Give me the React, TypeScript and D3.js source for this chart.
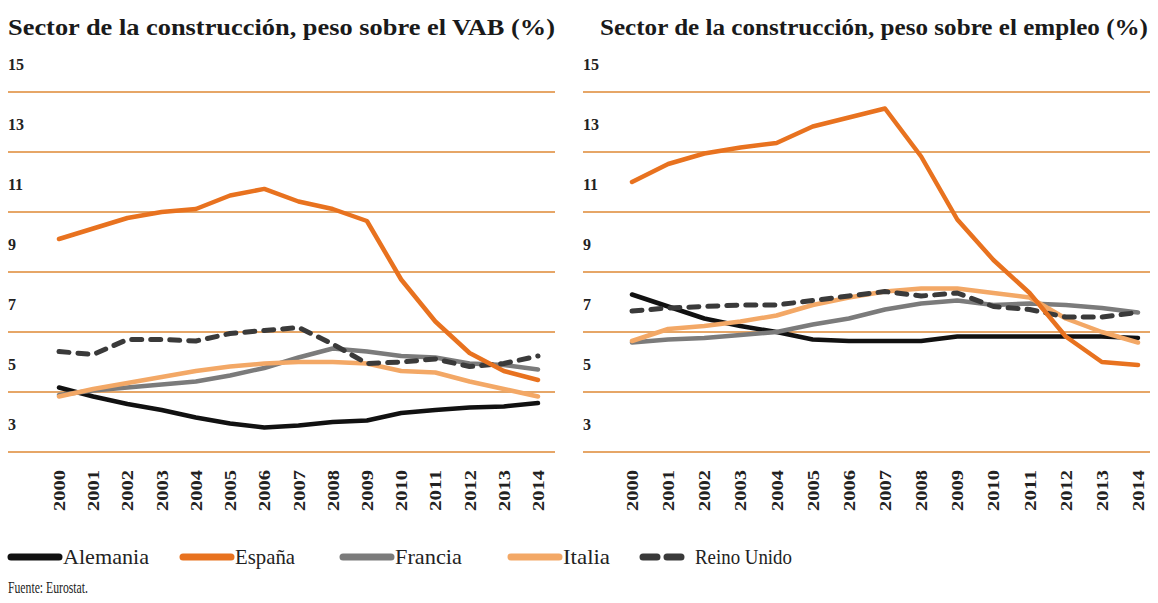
import React from "react";
import * as d3 from "d3";

const years = ["2000","2001","2002","2003","2004","2005","2006","2007","2008","2009","2010","2011","2012","2013","2014"];

// Left chart: weight on VAB (%)
const vabAlemania = [4.15, 3.85, 3.6, 3.4, 3.15, 2.95, 2.82, 2.88, 3.0, 3.05, 3.3, 3.4, 3.48, 3.52, 3.63];
const vabEspana = [9.1, 9.45, 9.8, 10.0, 10.1, 10.55, 10.77, 10.35, 10.1, 9.7, 7.75, 6.35, 5.3, 4.7, 4.4];
const vabFrancia = [3.9, 4.05, 4.15, 4.25, 4.35, 4.55, 4.8, 5.15, 5.45, 5.35, 5.2, 5.15, 4.95, 4.9, 4.75];
const vabItalia = [3.85, 4.1, 4.3, 4.5, 4.7, 4.85, 4.95, 5.0, 5.0, 4.95, 4.7, 4.65, 4.35, 4.1, 3.85];
const vabReinoUnido = [5.35, 5.25, 5.75, 5.75, 5.7, 5.95, 6.05, 6.15, 5.6, 4.95, 5.0, 5.1, 4.85, 4.95, 5.2];

// Right chart: weight on employment (%)
const empAlemania = [7.25, 6.85, 6.45, 6.2, 6.0, 5.75, 5.7, 5.7, 5.7, 5.85, 5.85, 5.85, 5.85, 5.85, 5.8];
const empEspana = [11.0, 11.6, 11.95, 12.15, 12.3, 12.85, 13.15, 13.45, 11.85, 9.75, 8.4, 7.3, 5.85, 5.0, 4.9];
const empFrancia = [5.65, 5.75, 5.8, 5.9, 6.0, 6.25, 6.45, 6.75, 6.95, 7.05, 6.9, 6.95, 6.9, 6.8, 6.65];
const empItalia = [5.7, 6.1, 6.2, 6.35, 6.55, 6.9, 7.15, 7.35, 7.45, 7.45, 7.3, 7.15, 6.45, 6.0, 5.65];
const empReinoUnido = [6.7, 6.8, 6.85, 6.9, 6.9, 7.05, 7.2, 7.35, 7.2, 7.3, 6.85, 6.75, 6.5, 6.5, 6.65];

const gridValues = [2, 4, 6, 8, 10, 12, 14];
const tickLabels = [15, 13, 11, 9, 7, 5, 3];

const seriesNames = ["Alemania", "España", "Francia", "Italia", "Reino Unido"];
const seriesColors = ["#111111", "#e8721f", "#7b7b7b", "#f3a866", "#3a3a3a"];
const seriesDashed = [false, false, false, false, true];

const titleLeft = "Sector de la construcción, peso sobre el VAB (%)";
const titleRight = "Sector de la construcción, peso sobre el empleo (%)";
const source = "Fuente: Eurostat.";

const SERIF = "'Liberation Serif', 'DejaVu Serif', serif";
const GRID = "#e6a667";

type PanelProps = {
  title: string;
  titleX: number;
  titleW: number;
  gridX0: number;
  gridX1: number;
  xRange: [number, number];
  series: number[][];
};

function Panel({ title, titleX, titleW, gridX0, gridX1, xRange, series }: PanelProps) {
  const x = d3.scalePoint<string>().domain(years).range(xRange);
  const y = d3.scaleLinear().domain([2, 14]).range([452, 92]);
  const line = d3
    .line<number>()
    .x((_, i) => x(years[i]) as number)
    .y((v) => y(v));
  const order = [0, 2, 3, 4, 1];
  return (
    <g>
      <text
        x={titleX}
        y={35}
        fontFamily={SERIF}
        fontWeight="bold"
        fontSize={23}
        fill="#1a1a1a"
        textLength={titleW}
        lengthAdjust="spacingAndGlyphs"
      >
        {title}
      </text>
      {gridValues.map((g) => (
        <line key={g} x1={gridX0} x2={gridX1} y1={y(g)} y2={y(g)} stroke={GRID} strokeWidth={2} />
      ))}
      {tickLabels.map((t) => (
        <text key={t} x={gridX0} y={y(t) + 4} dominantBaseline="middle" fontFamily={SERIF} fontWeight="bold" fontSize={16} fill="#222">
          {t}
        </text>
      ))}
      {years.map((yr) => (
        <text
          key={yr}
          transform={`translate(${(x(yr) as number) + 6},511) rotate(-90)`}
          fontFamily={SERIF}
          fontWeight="bold"
          fontSize={17}
          fill="#222"
          textLength={41}
          lengthAdjust="spacingAndGlyphs"
        >
          {yr}
        </text>
      ))}
      {order.map((si) => (
        <path
          key={si}
          d={line(series[si]) || ""}
          fill="none"
          stroke={seriesColors[si]}
          strokeWidth={seriesDashed[si] ? 5 : 4.5}
          strokeDasharray={seriesDashed[si] ? "10 9" : undefined}
          strokeLinecap="round"
          strokeLinejoin="round"
        />
      ))}
    </g>
  );
}

const legendX = [8, 180, 340, 508, 640];
const legendTextW = [86, 60, 67, 47, 97];

export default function App() {
  return (
    <svg
      width={1158}
      height={603}
      style={{ position: "absolute", left: 0, top: 0, background: "#fff" }}
    >
      <rect width={1158} height={603} fill="#fff" />
      <Panel
        title={titleLeft}
        titleX={8}
        titleW={547}
        gridX0={8}
        gridX1={555}
        xRange={[59, 538]}
        series={[vabAlemania, vabEspana, vabFrancia, vabItalia, vabReinoUnido]}
      />
      <Panel
        title={titleRight}
        titleX={600}
        titleW={548}
        gridX0={583}
        gridX1={1150}
        xRange={[632, 1138]}
        series={[empAlemania, empEspana, empFrancia, empItalia, empReinoUnido]}
      />
      {seriesNames.map((name, i) => (
        <g key={name}>
          <line
            x1={legendX[i] + 3}
            x2={legendX[i] + 51}
            y1={557}
            y2={557}
            stroke={seriesColors[i]}
            strokeWidth={7}
            strokeLinecap="round"
            strokeDasharray={seriesDashed[i] ? "14 10" : undefined}
          />
          <text
            x={legendX[i] + 55}
            y={564}
            fontFamily={SERIF}
            fontSize={21}
            fill="#222"
            textLength={legendTextW[i]}
            lengthAdjust="spacingAndGlyphs"
          >
            {name}
          </text>
        </g>
      ))}
      <text x={8} y={593} fontFamily={SERIF} fontSize={16} fill="#222" textLength={80} lengthAdjust="spacingAndGlyphs">
        {source}
      </text>
    </svg>
  );
}
